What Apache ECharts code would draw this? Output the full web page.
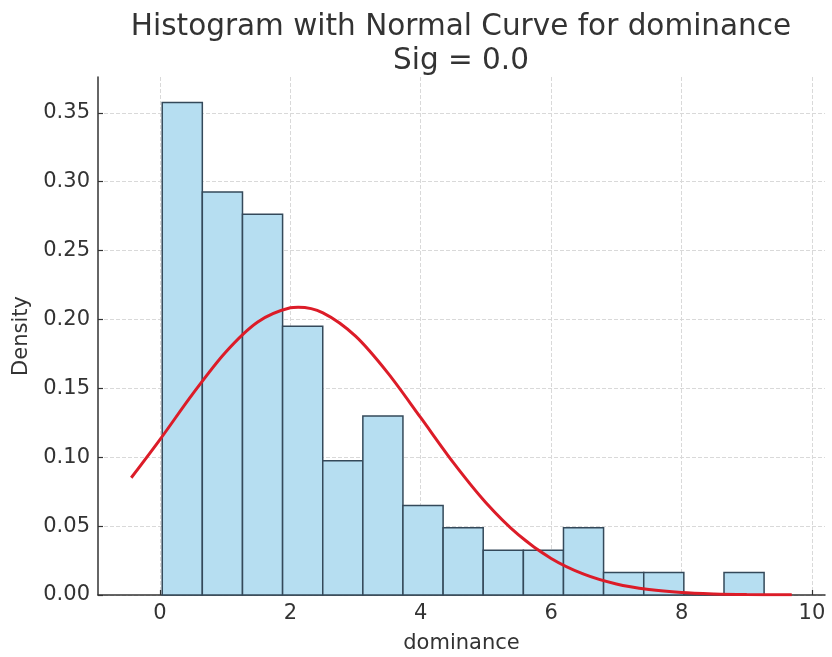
<!DOCTYPE html>
<html>
<head>
<meta charset="utf-8">
<title>Histogram with Normal Curve for dominance</title>
<script src="https://cdn.jsdelivr.net/npm/echarts@6/dist/echarts.min.js"></script>
<style>
  html, body { margin: 0; padding: 0; background: #ffffff; }
  #chart { width: 832px; height: 657px; }
</style>
</head>
<body>
<div id="chart"></div>
<script>
// Histogram bin edges (dominance) and density per bin
const binEdges = [0.035, 0.650, 1.266, 1.881, 2.497, 3.112, 3.727, 4.343,
                  4.958, 5.574, 6.189, 6.804, 7.420, 8.035, 8.651, 9.266];
const densities = [0.3575, 0.2925, 0.2763, 0.1950, 0.0975, 0.1300, 0.0650,
                   0.0488, 0.0325, 0.0325, 0.0488, 0.0163, 0.0163, 0.0000, 0.0163];

// Fitted normal density curve, sampled along dominance
const curveX = [-0.44, 0, 0.5, 1, 1.5, 2, 2.12, 2.5, 3, 3.5, 4, 4.5, 5, 5.5,
                6, 6.5, 7, 7.5, 8, 8.5, 9, 9.5, 9.69];
const curveY = [0.0851, 0.1128, 0.1458, 0.1759, 0.1982, 0.2085, 0.2089, 0.2048,
                0.1879, 0.1609, 0.1287, 0.0961, 0.0670, 0.0436, 0.0265, 0.0151,
                0.0080, 0.0040, 0.0018, 0.0008, 0.0003, 0.0001, 0.0001];

// Axis ticks
const xTicks = [0, 2, 4, 6, 8, 10];
const yTicks = [0, 0.05, 0.10, 0.15, 0.20, 0.25, 0.30, 0.35];

const FONT = 'DejaVu Sans';
const TEXT = '#333333';

const histData = densities.map((d, i) => [binEdges[i], binEdges[i + 1], d]);
const curveData = curveX.map((x, i) => [x, curveY[i]]);

const chart = echarts.init(document.getElementById('chart'), null, { renderer: 'canvas' });

chart.setOption({
  animation: false,
  backgroundColor: '#ffffff',
  title: {
    text: 'Histogram with Normal Curve for dominance\nSig = 0.0',
    left: 456,
    top: 5,
    textAlign: 'center',
    textStyle: {
      fontFamily: FONT,
      fontSize: 29.5,
      fontWeight: 'normal',
      color: TEXT,
      lineHeight: 34
    }
  },
  grid: {
    left: 98, right: 7, top: 77, bottom: 62,
    containLabel: false,
    outerBoundsMode: 'none'
  },
  xAxis: {
    type: 'value',
    min: -0.95,
    max: 10.2,
    name: 'dominance',
    nameLocation: 'middle',
    nameGap: 38,
    nameTextStyle: { fontFamily: FONT, fontSize: 21, color: TEXT },
    axisLine: { show: true, onZero: false, lineStyle: { color: '#333333', width: 1.5 } },
    axisTick: { show: true, inside: true, length: 5, customValues: xTicks,
                lineStyle: { color: '#333333', width: 1.2 } },
    axisLabel: { customValues: xTicks, margin: 8,
                 fontFamily: FONT, fontSize: 21, color: TEXT },
    splitLine: { show: true, lineStyle: { color: '#d9d9d9', width: 1, type: [4, 2] } }
  },
  yAxis: {
    type: 'value',
    min: 0,
    max: 0.376,
    name: 'Density',
    nameLocation: 'middle',
    nameRotate: 90,
    nameGap: 58,
    nameTextStyle: { fontFamily: FONT, fontSize: 21, color: TEXT },
    axisLine: { show: true, onZero: false, lineStyle: { color: '#333333', width: 1.5 } },
    axisTick: { show: true, inside: true, length: 5, customValues: yTicks,
                lineStyle: { color: '#333333', width: 1.2 } },
    axisLabel: { customValues: yTicks, margin: 8,
                 fontFamily: FONT, fontSize: 21, color: TEXT,
                 formatter: v => v.toFixed(2) },
    splitLine: { show: true, lineStyle: { color: '#d9d9d9', width: 1, type: [4, 2] } }
  },
  series: [
    {
      type: 'custom',
      name: 'histogram',
      data: histData,
      encode: { x: [0, 1], y: 2 },
      renderItem: function (params, api) {
        const base = api.coord([api.value(0), 0]);
        const top = api.coord([api.value(1), api.value(2)]);
        return {
          type: 'rect',
          shape: {
            x: base[0],
            y: top[1],
            width: top[0] - base[0],
            height: base[1] - top[1]
          },
          style: {
            fill: '#b6def1',
            stroke: '#34495a',
            lineWidth: 1.5
          }
        };
      },
      z: 2
    },
    {
      type: 'line',
      name: 'normal',
      data: curveData,
      smooth: 0.3,
      showSymbol: false,
      symbol: 'none',
      lineStyle: { color: '#dc1c28', width: 3 },
      z: 3
    }
  ]
});
</script>
</body>
</html>
